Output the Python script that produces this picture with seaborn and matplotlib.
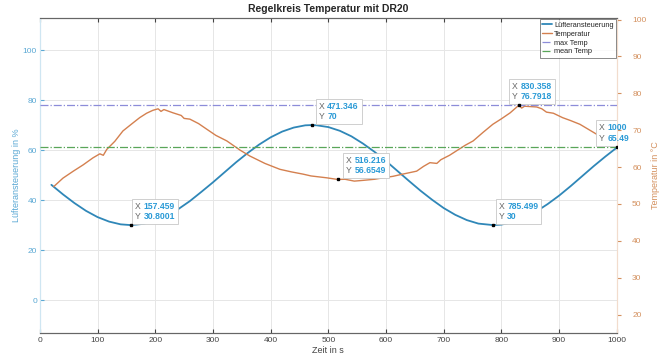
import matplotlib
matplotlib.use("Agg")
import matplotlib.pyplot as plt
import pandas as pd
import seaborn as sns
from matplotlib.patches import Rectangle
from matplotlib.transforms import Bbox, IdentityTransform

sns.set_style("whitegrid")
plt.rcParams['font.family'] = ['Liberation Sans', 'DejaVu Sans']

# Lüfteransteuerung in % (left axis)
fan_t = [20, 40, 60, 80, 100, 120, 140, 157.459, 180, 200, 220, 240, 260, 280, 300,
         320, 340, 360, 380, 400, 420, 440, 460, 471.346, 480, 500, 520, 540, 560, 580,
         600, 620, 640, 660, 680, 700, 720, 740, 760, 785.499, 800, 820, 840, 860, 880,
         900, 920, 940, 960, 980, 1000]
fan_val = [46.1, 42.3, 38.8, 35.7, 33.2, 31.4, 30.3, 30.0, 30.5, 31.8, 33.8, 36.4, 39.6, 43.3, 47.1,
           51.1, 55.1, 58.8, 62.2, 65.1, 67.4, 69.0, 69.9, 70.0, 69.9, 69.2, 67.7, 65.5, 62.6, 59.3,
           55.6, 51.6, 47.6, 43.7, 40.1, 36.8, 34.1, 32.0, 30.6, 30.0, 30.2, 31.2, 32.9, 35.4, 38.4,
           41.8, 45.6, 49.6, 53.6, 57.4, 61.0]

# Temperatur in °C (right axis)
temp_t = [24, 40, 58, 75, 92, 104, 110, 116, 130, 144, 160, 173, 185, 196, 205, 210, 215,
          231, 245, 250, 260, 275, 289, 305, 324, 347, 364, 390, 416, 436, 456, 470, 497,
          516.216, 529, 545, 560, 580, 595, 612, 629, 653, 665, 676, 688, 695, 710, 722, 737,
          751, 768, 785, 800, 815, 830.358, 835, 840, 861, 870, 878, 890, 906, 920, 936, 950,
          965, 980, 1000]
temp_val = [54.7, 57.0, 58.9, 60.6, 62.5, 63.6, 63.2, 64.8, 67.0, 69.8, 71.8, 73.4, 74.6, 75.4,
            75.8, 75.1, 75.6, 74.7, 74.0, 73.2, 73.0, 71.8, 70.3, 68.6, 67.1, 64.6, 63.0, 61.0,
            59.4, 58.7, 58.1, 57.6, 57.1, 56.65, 56.7, 56.2, 56.4, 56.7, 57.1, 57.5, 58.1, 58.9,
            60.2, 61.2, 61.0, 62.0, 63.2, 64.4, 65.9, 67.1, 69.4, 71.6, 73.1, 74.7, 76.79, 76.0,
            76.5, 76.3, 75.8, 74.9, 74.6, 73.4, 72.6, 71.6, 70.3, 68.9, 67.4, 65.49]

max_temp = 76.7918
mean_temp = 65.5

# data tips: (x, y, label x, label y, axis, offset in points)
tips = [
    (157.459, 30.0, "157.459", "30.8001", "left", (3, 3)),
    (471.346, 70.0, "471.346", "70", "left", (5, 3)),
    (516.216, 56.6549, "516.216", "56.6549", "right", (6, 3)),
    (830.358, 76.7918, "830.358", "76.7918", "right", (-5, 3)),
    (785.499, 30.0, "785.499", "30", "left", (4, 3)),
    (1000, 65.49, "1000", "65.49", "right", (-13, 3)),
]

blue = "#2f87b8"
orange = "#d4804f"
tick_blue = "#5aa8d4"
tick_orange = "#d4915f"

fan_df = pd.DataFrame({"t": fan_t, "val": fan_val})
temp_df = pd.DataFrame({"t": temp_t, "val": temp_val})

fig = plt.figure(figsize=(6.64, 3.54), dpi=100)
ax = fig.add_axes([0.060, 0.059, 0.869, 0.890])
ax2 = ax.twinx()

sns.lineplot(data=fan_df, x="t", y="val", ax=ax, color=blue, lw=1.3, label="Lüfteransteuerung",
             legend=False)
sns.lineplot(data=temp_df, x="t", y="val", ax=ax2, color=orange, lw=1.0, label="Temperatur",
             legend=False)
max_line = ax2.axhline(max_temp, lw=0.9, ls="-.", label="max Temp", zorder=3)
mean_line = ax2.axhline(mean_temp, lw=0.9, ls="-.", label="mean Temp", zorder=3)
max_line.set_color((0.55, 0.55, 0.85))
mean_line.set_color((0.35, 0.65, 0.35))

ax.set_xlim(0, 1000)
ax.set_ylim(-13.2, 112.8)
ax2.set_ylim(15, 100.4)
ax.set_xticks(range(0, 1001, 100))
ax.set_yticks(range(0, 101, 20))
ax2.set_yticks(range(20, 101, 10))

ax.grid(True, color="#e6e6e6", lw=0.7)
ax2.grid(False)

ax.set_xlabel("Zeit in s", fontsize=6.5, color="#444444", labelpad=1)
ax.set_ylabel("Lüfteransteuerung in %", fontsize=6.5, color=tick_blue, labelpad=1)
ax2.set_ylabel("Temperatur in °C", fontsize=6.5, color=tick_orange, labelpad=3)
ax.set_title("Regelkreis Temperatur mit DR20", fontsize=7.5, fontweight="bold", pad=4)

ax.tick_params(axis="x", labelsize=6, colors="#444444", direction="in", length=3, top=True,
               bottom=True, pad=3)
ax.tick_params(axis="y", labelsize=6, colors=tick_blue, direction="in", length=3, left=True, pad=2)
ax2.tick_params(axis="y", labelsize=6, colors=tick_orange, direction="out", length=3, right=True,
                pad=8)

for a in (ax, ax2):
    a.spines["top"].set_color("#666666")
    a.spines["bottom"].set_color("#666666")
    a.spines["left"].set_color("#cfe6f2")
    a.spines["right"].set_color("#f2dccd")
    for s in a.spines.values():
        s.set_linewidth(0.8)

# data tips: grey "X/Y" and blue values side by side, box drawn around both afterwards
tip_texts = []
for x, y, lx, ly, side, off in tips:
    src = ax if side == "left" else ax2
    ax2.plot([x], [y], marker="s", ms=1.5, color="black", transform=src.transData, zorder=12)
    t1 = ax2.annotate("X\nY", xy=(x, y), xycoords=src.transData, xytext=off,
                      textcoords="offset points", ha="left", va="bottom", fontsize=6.2,
                      color="#666666", zorder=11)
    t2 = ax2.annotate(f"{lx}\n{ly}", xy=(1, 0), xycoords=t1, xytext=(2, 0),
                      textcoords="offset points", ha="left", va="bottom", fontsize=6.2,
                      color="#2a9ad6", fontweight="bold", zorder=11)
    tip_texts.append((t1, t2))

fig.canvas.draw()
renderer = fig.canvas.get_renderer()
for t1, t2 in tip_texts:
    bb = Bbox.union([t1.get_window_extent(renderer), t2.get_window_extent(renderer)])
    pad = 3
    rect = Rectangle((bb.x0 - pad, bb.y0 - pad), bb.width + 2 * pad, bb.height + 2 * pad,
                     transform=IdentityTransform(), fc="white", ec="#c8c8c8", lw=0.6, zorder=10)
    ax2.add_patch(rect)

h1, l1 = ax.get_legend_handles_labels()
h2, l2 = ax2.get_legend_handles_labels()
leg = ax2.legend(h1 + h2, l1 + l2, loc="upper right", fontsize=5.3, frameon=True,
                 fancybox=False, edgecolor="#555555", borderpad=0.35, labelspacing=0.25,
                 handlelength=1.3, handletextpad=0.3, borderaxespad=0.1)
leg.get_frame().set_linewidth(0.6)
leg.set_zorder(20)

fig.savefig("out.png", dpi=100)
